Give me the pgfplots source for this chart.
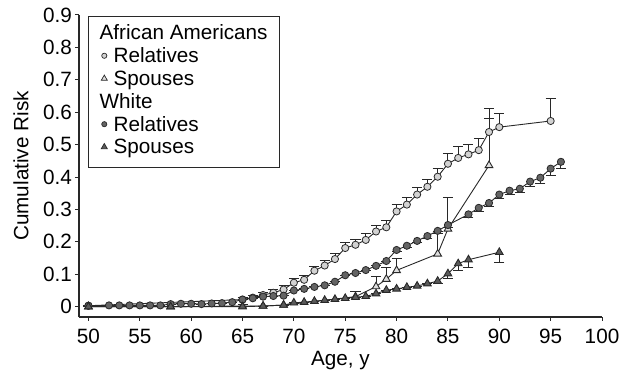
\documentclass[border=0pt]{standalone}
\usepackage{fontspec}
\setmainfont{Liberation Sans}
\usepackage{pgfplots}
\pgfplotsset{compat=1.18}
\usepackage{pgfplotstable}
\definecolor{edge}{RGB}{40,40,40}
\definecolor{lt}{RGB}{210,210,210}
\definecolor{ltt}{RGB}{222,222,222}
\definecolor{dk}{RGB}{100,100,100}
\definecolor{dkt}{RGB}{90,90,90}
\newcommand{\fs}{\fontsize{20.7bp}{24bp}\selectfont}

% White relatives
\pgfplotstableread{
x y e
50 0.003 0
52 0.004 0
53 0.004 0
54 0.004 0
55 0.004 0
56 0.004 0
57 0.004 0
58 0.008 0
59 0.009 0
60 0.009 0
61 0.008 0
62 0.010 0
63 0.011 0
64 0.014 0
65 0.022 0
66 0.026 0
67 0.031 0
68 0.033 0
69 0.034 0
70 0.050 0
71 0.055 0
72 0.061 0
73 0.066 0
74 0.077 0
75 0.097 0
76 0.104 0
77 0.113 0
78 0.126 0
79 0.141 0
80 0.175 0.006
81 0.188 0.006
82 0.203 0.006
83 0.218 0.007
84 0.234 0.008
85 0.252 0.009
87 0.285 0.010
88 0.305 0.010
89 0.320 0.011
90 0.346 0.012
91 0.358 0.012
92 0.364 0.013
93 0.386 0.015
94 0.398 0.017
95 0.426 0.021
96 0.447 0.022
}\wrel

% African American relatives
\pgfplotstableread{
x y e
50 0.003 0
65 0.022 0.008
66 0.028 0.008
67 0.036 0.009
68 0.043 0.010
69 0.053 0.012
70 0.074 0.013
71 0.083 0.013
72 0.111 0.014
73 0.127 0.015
74 0.147 0.016
75 0.181 0.017
76 0.191 0.018
77 0.206 0.019
78 0.232 0.020
79 0.245 0.021
80 0.294 0.020
81 0.315 0.022
82 0.346 0.023
83 0.370 0.024
84 0.401 0.027
85 0.441 0.031
86 0.459 0.034
87 0.470 0.032
88 0.483 0.035
89 0.539 0.072
90 0.554 0.042
95 0.573 0.069
}\arel

% African American spouses
\pgfplotstableread{
x y e
50 0.000 0
58 0.000 0
65 0.002 0.004
67 0.002 0
69 0.005 0
76 0.031 0.015
78 0.062 0.031
79 0.085 0.037
80 0.112 0.037
84 0.163 0.070
85 0.240 0.096
89 0.436 0.145
}\aspo

% White spouses
\pgfplotstableread{
x y e
50 0.000 0
58 0.000 0
65 0.000 0
67 0.002 0
69 0.005 0
70 0.012 0
71 0.014 0
72 0.017 0
73 0.020 0
74 0.023 0
75 0.026 0
76 0.029 0
77 0.032 0
78 0.040 0
79 0.051 0
80 0.055 0
81 0.060 0
82 0.064 0
83 0.071 0
84 0.079 0.006
85 0.102 0.014
86 0.133 0.020
87 0.145 0.024
90 0.168 0.032
}\wspo

\begin{document}
\begin{tikzpicture}
\useasboundingbox (-79bp,-57bp) rectangle (543bp,317bp);
\begin{axis}[
  at={(0,0)}, anchor=south west,
  scale only axis, width=523bp, height=302bp,
  xmin=49.08, xmax=100, ymin=-0.0318, ymax=0.9,
  axis lines*=left,
  axis line style={color=edge, line width=1.1bp},
  tick align=outside, major tick length=4bp,
  tick style={color=edge, line width=1bp},
  xtick={50,55,...,100},
  ytick={0,0.1,0.2,0.3,0.4,0.5,0.6,0.7,0.8,0.9},
  yticklabels={0,0.1,0.2,0.3,0.4,0.5,0.6,0.7,0.8,0.9},
  /pgf/number format/assume math mode=true,
  tick label style={font=\fs, color=black},
  yticklabel style={inner sep=0bp, xshift=-3bp},
  xticklabel style={inner sep=0bp, yshift=-8bp},
  label style={font=\fs},
  xlabel={Age, y}, ylabel={Cumulative Risk},
  xlabel style={at={(axis description cs:0.5,-0.162)}, anchor=base},
  ylabel style={at={(axis description cs:-0.111,0.5)}, anchor=center},
  clip=false,
  legend style={at={(axis cs:50,0.897)}, anchor=north west,
    draw=edge, line width=1bp, font=\fs,
    inner xsep=12bp, inner ysep=8.5bp, row sep=2.8bp, column sep=6bp,
    nodes={inner sep=0bp, text height=15bp, text depth=5bp}},
  legend cell align=left,
  every axis plot/.append style={line width=0.9bp, color=edge},
  error bars/error mark=|,
  error bars/error bar style={line width=0.9bp, color=edge},
  error bars/error mark options={line width=0.9bp, mark size=5bp, color=edge},
]
\addplot[forget plot, mark=*, mark size=3.6bp, mark options={fill=lt, draw=edge, line width=0.8bp},
  error bars/.cd, y dir=plus, y explicit] table[x=x, y=y, y error=e] {\arel};
\addplot[forget plot, mark=triangle*, mark size=4.4bp, mark options={fill=ltt, draw=edge, line width=0.9bp},
  error bars/.cd, y dir=plus, y explicit] table[x=x, y=y, y error=e] {\aspo};
\addplot[forget plot, mark=*, mark size=3.6bp, mark options={fill=dk, draw=edge, line width=0.8bp},
  error bars/.cd, y dir=minus, y explicit] table[x=x, y=y, y error=e] {\wrel};
\addplot[forget plot, mark=triangle*, mark size=4.4bp, mark options={fill=dkt, draw=edge, line width=0.9bp},
  error bars/.cd, y dir=minus, y explicit] table[x=x, y=y, y error=e] {\wspo};

\addlegendimage{empty legend}
\addlegendentry{\hspace*{-14bp}African Americans}
\addlegendimage{legend image code/.code={\path[draw=edge, fill=lt, line width=0.7bp] (0bp,2bp) circle[radius=2.6bp];}}
\addlegendentry{Relatives}
\addlegendimage{legend image code/.code={\path[draw=edge, fill=ltt, line width=0.7bp] (-3bp,0.3bp) -- (3bp,0.3bp) -- (0bp,5.5bp) -- cycle;}}
\addlegendentry{Spouses}
\addlegendimage{empty legend}
\addlegendentry{\hspace*{-14bp}White}
\addlegendimage{legend image code/.code={\path[draw=edge, fill=dk, line width=0.7bp] (0bp,2bp) circle[radius=2.6bp];}}
\addlegendentry{Relatives}
\addlegendimage{legend image code/.code={\path[draw=edge, fill=dkt, line width=0.7bp] (-3bp,0.3bp) -- (3bp,0.3bp) -- (0bp,5.5bp) -- cycle;}}
\addlegendentry{Spouses}
\end{axis}
\end{tikzpicture}
\end{document}
